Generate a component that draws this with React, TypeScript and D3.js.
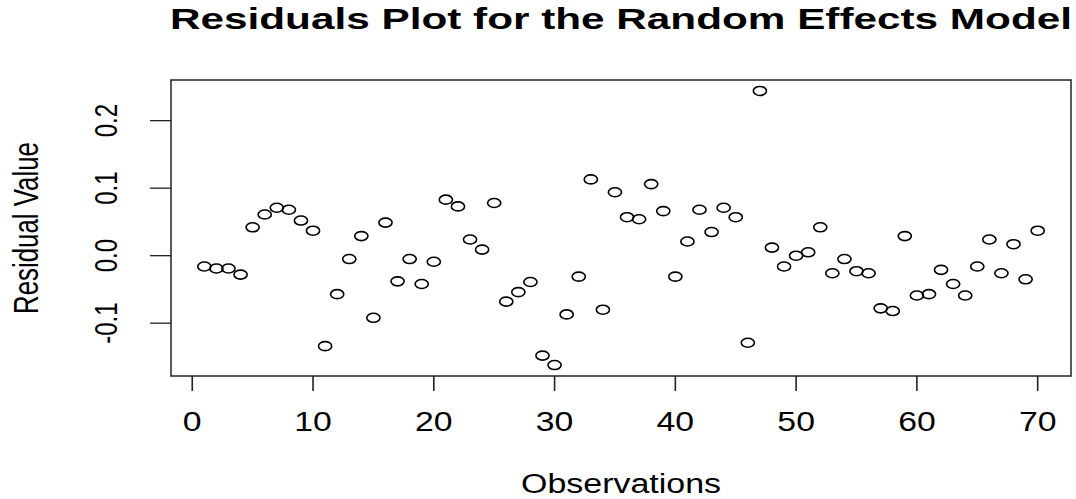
import React from "react";
import * as d3 from "d3";

const residuals = [
  -0.016, -0.019, -0.019, -0.028, 0.042, 0.061, 0.071, 0.068, 0.052, 0.037,
  -0.134, -0.057, -0.005, 0.029, -0.092, 0.049, -0.038, -0.005, -0.042, -0.009,
  0.083, 0.073, 0.024, 0.009, 0.078, -0.068, -0.054, -0.039, -0.148, -0.162,
  -0.087, -0.031, 0.113, -0.08, 0.094, 0.057, 0.054, 0.106, 0.066, -0.031,
  0.021, 0.068, 0.035, 0.071, 0.057, -0.129, 0.244, 0.012, -0.016, 0.0,
  0.005, 0.042, -0.026, -0.005, -0.023, -0.026, -0.078, -0.082, 0.029, -0.059,
  -0.057, -0.021, -0.042, -0.059, -0.016, 0.024, -0.026, 0.017, -0.035, 0.037,
];
const observations = residuals.map((_, i) => i + 1);

const xTicks = [0, 10, 20, 30, 40, 50, 60, 70];
const yTicks = [-0.1, 0.0, 0.1, 0.2];

const titleText = "Residuals Plot for the Random Effects Model";
const xLabel = "Observations";
const yLabel = "Residual Value";

const W = 1076;
const H = 499;
const box = { left: 171, right: 1071, top: 80, bottom: 376 };
const font = "'Liberation Sans', Arial, sans-serif";
const ink = "#222";

// R style 4% range extension
function padded(ext: [number, number]): [number, number] {
  const r = ext[1] - ext[0];
  return [ext[0] - 0.04 * r, ext[1] + 0.04 * r];
}

export default function App() {
  const x = d3
    .scaleLinear()
    .domain(padded(d3.extent(observations) as [number, number]))
    .range([box.left, box.right]);
  const y = d3
    .scaleLinear()
    .domain(padded(d3.extent(residuals) as [number, number]))
    .range([box.bottom, box.top]);

  return (
    <svg
      width={W}
      height={H}
      style={{ position: "absolute", left: 0, top: 0, background: "#fff" }}
    >
      <rect width={W} height={H} fill="#fff" />

      {/* title */}
      <text
        x={(box.left + box.right) / 2}
        y={29}
        textAnchor="middle"
        fontFamily={font}
        fontWeight="bold"
        fontSize={29}
        textLength={902}
        lengthAdjust="spacingAndGlyphs"
        fill="#000"
      >
        {titleText}
      </text>

      {/* plot frame */}
      <rect
        x={box.left}
        y={box.top}
        width={box.right - box.left}
        height={box.bottom - box.top}
        fill="none"
        stroke={ink}
        strokeWidth={1.5}
      />

      {/* x axis */}
      {xTicks.map((t) => (
        <g key={"x" + t}>
          <line
            x1={x(t)}
            x2={x(t)}
            y1={box.bottom}
            y2={box.bottom + 15}
            stroke={ink}
            strokeWidth={1.6}
          />
          <text
            transform={`translate(${x(t)},431) scale(1.25,1)`}
            textAnchor="middle"
            fontFamily={font}
            fontSize={27}
            fill="#000"
          >
            {t}
          </text>
        </g>
      ))}

      {/* y axis */}
      {yTicks.map((t) => (
        <g key={"y" + t}>
          <line
            x1={box.left - 21}
            x2={box.left}
            y1={y(t)}
            y2={y(t)}
            stroke={ink}
            strokeWidth={1.3}
          />
          <text
            transform={`translate(116.5,${y(t)}) scale(1.28,1) rotate(-90)`}
            textAnchor="middle"
            fontFamily={font}
            fontSize={24}
            fill="#000"
          >
            {t.toFixed(1)}
          </text>
        </g>
      ))}

      {/* axis titles */}
      <text
        x={(box.left + box.right) / 2}
        y={493}
        textAnchor="middle"
        fontFamily={font}
        fontSize={27}
        textLength={200}
        lengthAdjust="spacingAndGlyphs"
        fill="#000"
      >
        {xLabel}
      </text>
      <text
        transform={`translate(38,${(box.top + box.bottom) / 2}) scale(1.33,1) rotate(-90)`}
        textAnchor="middle"
        fontFamily={font}
        fontSize={26}
        textLength={172}
        lengthAdjust="spacingAndGlyphs"
        fill="#000"
      >
        {yLabel}
      </text>

      {/* points */}
      {residuals.map((v, i) => (
        <ellipse
          key={i}
          cx={x(observations[i])}
          cy={y(v)}
          rx={6.6}
          ry={4.5}
          fill="none"
          stroke="#000"
          strokeWidth={1.6}
        />
      ))}
    </svg>
  );
}
